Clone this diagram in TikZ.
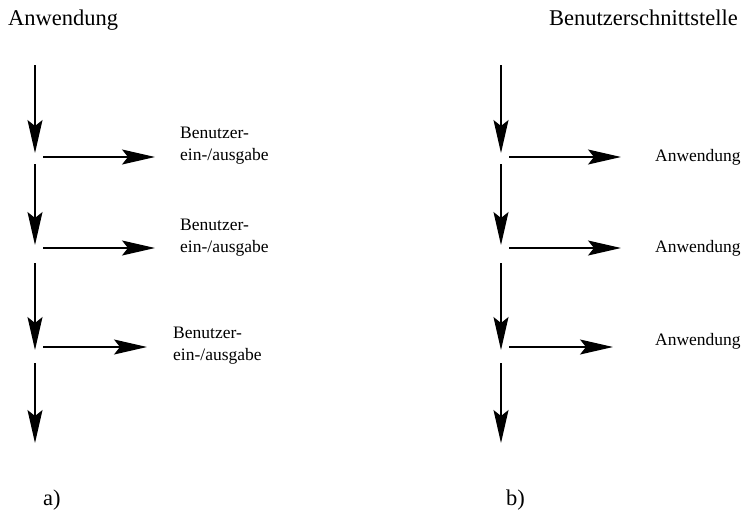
\documentclass[tikz,border=0pt]{standalone}
\usepackage{fontspec}
\setmainfont{Liberation Serif}
\usetikzlibrary{arrows.meta}
\begin{document}
\begin{tikzpicture}[x=1pt,y=-1pt,
  flow/.style={line width=1.2pt,-{Stealth[length=33pt,width=15pt,inset=6pt]}},
  title/.style={inner sep=0pt,font=\fontsize{22.5}{27}\selectfont},
  lbl/.style={anchor=west,inner sep=0pt,align=left,font=\fontsize{17.5}{22}\selectfont}]
\useasboundingbox (0,0) rectangle (745,523);

% headings and captions
\node[title,anchor=base west] (ta) at (8,25) {Anwendung};
\node[title,anchor=base east] (tb) at (738,25) {Benutzerschnittstelle};
\node[title,anchor=base west] (ca) at (43,505) {a)};
\node[title,anchor=base west] (cb) at (506,505) {b)};

% a) main flow of the application with calls to the user interface
\coordinate (a0) at (35,65);
\coordinate (a1) at (35,153);
\coordinate (a1s) at (35,164);
\coordinate (a2) at (35,245);
\coordinate (a2s) at (35,263);
\coordinate (a3) at (35,350);
\coordinate (a3s) at (35,363);
\coordinate (a4) at (35,443);
\draw[flow] (a0) -- (a1);
\draw[flow] (a1s) -- (a2);
\draw[flow] (a2s) -- (a3);
\draw[flow] (a3s) -- (a4);

\coordinate (ah1) at (43,157);
\coordinate (ae1) at (155,157);
\coordinate (ah2) at (43,248);
\coordinate (ae2) at (155,248);
\coordinate (ah3) at (43,347);
\coordinate (ae3) at (147,347);
\draw[flow] (ah1) -- (ae1);
\draw[flow] (ah2) -- (ae2);
\draw[flow] (ah3) -- (ae3);

\node[lbl] (la1) at (180,146) {Benutzer-\\ein-/ausgabe};
\node[lbl] (la2) at (180,238) {Benutzer-\\ein-/ausgabe};
\node[lbl] (la3) at (173,346) {Benutzer-\\ein-/ausgabe};

% b) main flow of the user interface with calls to the application
\coordinate (b0) at (501,65);
\coordinate (b1) at (501,153);
\coordinate (b1s) at (501,164);
\coordinate (b2) at (501,245);
\coordinate (b2s) at (501,263);
\coordinate (b3) at (501,350);
\coordinate (b3s) at (501,363);
\coordinate (b4) at (501,443);
\draw[flow] (b0) -- (b1);
\draw[flow] (b1s) -- (b2);
\draw[flow] (b2s) -- (b3);
\draw[flow] (b3s) -- (b4);

\coordinate (bh1) at (509,157);
\coordinate (be1) at (621,157);
\coordinate (bh2) at (509,248);
\coordinate (be2) at (621,248);
\coordinate (bh3) at (509,347);
\coordinate (be3) at (613,347);
\draw[flow] (bh1) -- (be1);
\draw[flow] (bh2) -- (be2);
\draw[flow] (bh3) -- (be3);

\node[lbl] (lb1) at (655,157) {Anwendung};
\node[lbl] (lb2) at (655,248) {Anwendung};
\node[lbl] (lb3) at (655,341) {Anwendung};
\end{tikzpicture}
\end{document}
